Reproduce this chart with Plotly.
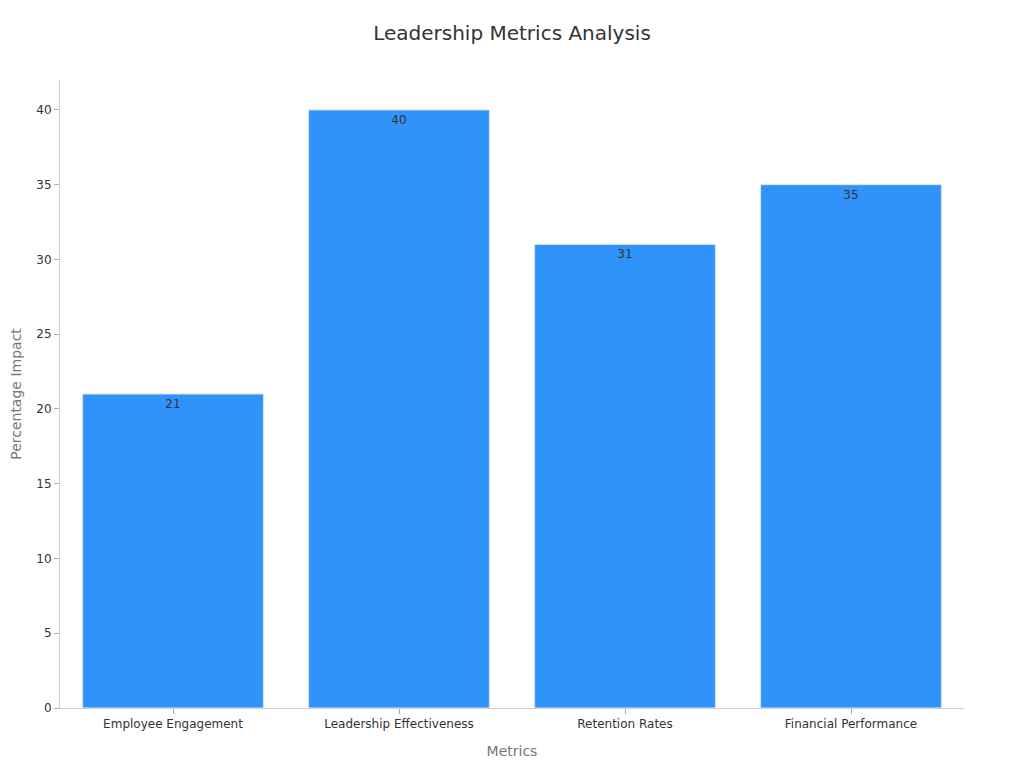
import plotly.graph_objects as go

metrics = ['Employee Engagement', 'Leadership Effectiveness', 'Retention Rates', 'Financial Performance']
impact = [21, 40, 31, 35]

# page body adds an 8px offset, so margins are pulled in by 8px to line up
fig = go.Figure(data=[go.Bar(x=metrics, y=impact,
                             text=impact,
                             textposition='inside',
                             insidetextanchor='end',
                             textfont=dict(color='#333333', size=12),
                             marker_color='#2F93F9',
                             marker_line=dict(color='#D6E6F8', width=1))],
                layout=go.Layout(
                    title=dict(text='Leadership Metrics Analysis', xref='container', x=504 / 1024,
                               xanchor='center', yref='container', y=1 - 25 / 768, yanchor='middle',
                               font=dict(size=20, color='#333333')),
                    font=dict(family='DejaVu Sans', color='#333333'),
                    template='plotly_white',
                    width=1024, height=768,
                    margin=dict(l=52, r=68, t=72, b=68),
                    bargap=0.2,
                    xaxis=dict(title=dict(text='Metrics', font=dict(size=14, color='#777777')),
                               automargin=False,
                               showgrid=False, showline=True, linecolor='#D0D0D0',
                               ticks='outside', ticklen=5, tickcolor='#AAAAAA',
                               tickfont=dict(size=12, color='#333333')),
                    yaxis=dict(title=dict(text='Percentage Impact', standoff=20,
                                          font=dict(size=14, color='#777777')),
                               automargin=False,
                               range=[0, 42], dtick=5, showgrid=False, zeroline=False,
                               showline=True, linecolor='#D0D0D0',
                               ticks='outside', ticklen=5, tickcolor='#AAAAAA',
                               tickfont=dict(size=12, color='#333333'))))

fig.write_html("out.html")
